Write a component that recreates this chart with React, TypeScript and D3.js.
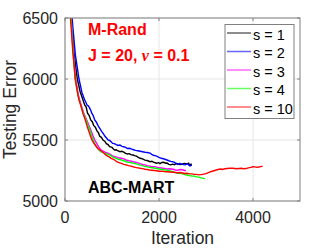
import React from "react";
import * as d3 from "d3";

// iteration, testing error
const s1 = [[50,7100],[128,6500],[190,6220],[262,6000],[320,5900],[383,5828],[419,5787],[450,5770],[480,5720],[515,5700],[547,5664],[580,5650],[610,5620],[645,5605],[680,5575],[710,5560],[740,5530],[775,5522],[809,5500],[845,5490],[880,5470],[915,5462],[950,5445],[1000,5440],[1030,5426],[1057,5418],[1090,5420],[1120,5412],[1170,5404],[1210,5408],[1250,5400],[1290,5390],[1330,5385],[1370,5388],[1400,5380],[1447,5377],[1480,5372],[1520,5368],[1560,5358],[1600,5350],[1650,5346],[1700,5335],[1750,5332],[1809,5322],[1850,5326],[1880,5318],[1950,5310],[1990,5314],[2020,5306],[2060,5316],[2100,5318],[2140,5310],[2170,5311],[2210,5300],[2250,5296],[2290,5302],[2330,5298],[2370,5308],[2400,5306],[2440,5298],[2480,5300],[2520,5306],[2550,5308],[2596,5303],[2630,5310],[2650,5296],[2680,5302],[2700,5300]];
const s2 = [[60,7100],[150,6500],[220,6200],[298,6000],[360,5890],[419,5828],[445,5810],[468,5787],[495,5780],[520,5765],[545,5745],[570,5720],[600,5700],[632,5664],[665,5648],[700,5620],[740,5595],[780,5570],[815,5552],[850,5530],[880,5518],[915,5500],[950,5496],[980,5485],[1015,5472],[1050,5470],[1090,5462],[1128,5455],[1170,5459],[1210,5448],[1250,5445],[1290,5440],[1330,5430],[1375,5432],[1420,5425],[1460,5420],[1500,5415],[1550,5412],[1600,5408],[1650,5404],[1700,5400],[1750,5398],[1809,5393],[1845,5382],[1880,5375],[1915,5372],[1950,5368],[2000,5358],[2050,5350],[2110,5344],[2170,5336],[2210,5330],[2250,5325],[2290,5322],[2330,5316],[2365,5306],[2400,5300],[2440,5308],[2480,5303],[2520,5298],[2560,5296],[2590,5304],[2620,5302],[2640,5292],[2660,5287],[2700,5295]];
const s3 = [[50,7150],[128,6500],[175,6230],[225,6000],[290,5860],[340,5790],[400,5720],[462,5664],[500,5630],[540,5590],[585,5545],[632,5500],[665,5478],[700,5455],[735,5432],[772,5418],[810,5410],[850,5400],[900,5394],[957,5385],[1000,5372],[1050,5365],[1100,5360],[1150,5352],[1200,5350],[1250,5345],[1300,5336],[1350,5330],[1400,5328],[1447,5322],[1500,5318],[1550,5312],[1600,5306],[1650,5300],[1700,5296],[1750,5290],[1800,5286],[1850,5282],[1900,5282],[1950,5278],[2000,5272],[2050,5270],[2110,5266],[2170,5262],[2230,5264],[2300,5260],[2350,5254],[2400,5252],[2450,5258],[2500,5256],[2540,5250],[2574,5250]];
const s4 = [[50,7150],[128,6500],[172,6230],[215,6000],[280,5860],[330,5790],[390,5720],[450,5664],[490,5620],[530,5580],[565,5540],[600,5500],[640,5466],[680,5440],[720,5420],[760,5405],[800,5398],[850,5390],[900,5384],[957,5377],[1000,5364],[1050,5355],[1100,5348],[1150,5340],[1200,5336],[1250,5330],[1300,5322],[1350,5318],[1400,5315],[1447,5311],[1500,5306],[1550,5300],[1600,5294],[1650,5290],[1700,5284],[1750,5280],[1800,5276],[1850,5272],[1900,5270],[1950,5266],[2000,5262],[2050,5260],[2110,5256],[2170,5254],[2230,5246],[2300,5240],[2350,5232],[2400,5228],[2450,5226],[2500,5222],[2550,5216],[2596,5213],[2650,5208],[2700,5205],[2750,5204],[2800,5198],[2850,5196],[2900,5190],[2940,5188],[2979,5182]];
const s10 = [[50,7150],[117,6500],[165,6230],[219,6000],[260,5900],[298,5828],[334,5787],[380,5720],[432,5664],[465,5620],[500,5580],[540,5535],[574,5500],[610,5476],[650,5455],[695,5432],[738,5418],[780,5408],[820,5395],[860,5380],[900,5370],[940,5362],[980,5350],[1020,5344],[1057,5336],[1100,5322],[1150,5315],[1200,5308],[1250,5300],[1300,5296],[1350,5290],[1400,5286],[1447,5281],[1500,5276],[1550,5272],[1600,5268],[1650,5265],[1700,5260],[1750,5258],[1800,5254],[1850,5252],[1900,5250],[1950,5248],[2000,5244],[2050,5245],[2110,5242],[2170,5240],[2230,5238],[2300,5236],[2350,5234],[2400,5232],[2450,5233],[2500,5230],[2550,5226],[2596,5227],[2650,5222],[2700,5222],[2750,5218],[2800,5218],[2840,5214],[2872,5216],[2910,5216],[2950,5220],[3000,5224],[3050,5232],[3100,5240],[3150,5246],[3200,5252],[3240,5256],[3277,5260],[3320,5262],[3350,5258],[3400,5264],[3450,5266],[3500,5268],[3568,5268],[3610,5266],[3650,5264],[3700,5266],[3750,5268],[3800,5264],[3851,5266],[3900,5272],[3950,5276],[4000,5281],[4040,5280],[4080,5276],[4120,5279],[4150,5280],[4180,5284],[4206,5284]];

const seriesNames = ["s = 1", "s = 2", "s = 3", "s = 4", "s = 10"];
const seriesData = [s1, s2, s3, s4, s10];
const colors = ["#000000", "#0000ff", "#ff00ff", "#00ff00", "#ff0000"];
const xTicks = [0, 2000, 4000];
const yTicks = [5000, 5500, 6000, 6500];

const W = 332, H = 249;
const margin = { top: 18, right: 32, bottom: 48, left: 65 };
const font = "'Liberation Sans', Arial, Helvetica, sans-serif";

export default function App() {
  const x = d3.scaleLinear().domain([0, 5000]).range([margin.left, W - margin.right]);
  const y = d3.scaleLinear().domain([5000, 6500]).range([H - margin.bottom, margin.top]);
  const line = d3.line<number[]>().x(d => x(d[0])).y(d => y(d[1]));
  const [x0, x1] = x.range();
  const [y0, y1] = y.range(); // y0 bottom, y1 top

  return (
    <svg width={W} height={H} style={{ position: "absolute", left: 0, top: 0, background: "#fff" }}>
      <defs>
        <clipPath id="plot">
          <rect x={x0} y={y1} width={x1 - x0} height={y0 - y1} />
        </clipPath>
      </defs>
      {/* grid */}
      {xTicks.map(t => (
        <line key={"gx" + t} x1={x(t)} x2={x(t)} y1={y1} y2={y0} stroke="#e6e6e6" />
      ))}
      {yTicks.map(t => (
        <line key={"gy" + t} x1={x0} x2={x1} y1={y(t)} y2={y(t)} stroke="#e6e6e6" />
      ))}
      {/* series */}
      <g clipPath="url(#plot)">
        {seriesData.map((d, i) => (
          <path key={i} d={line(d) || ""} fill="none" stroke={colors[i]} strokeWidth={1.4} />
        ))}
      </g>
      {/* box + ticks */}
      <rect x={x0} y={y1} width={x1 - x0} height={y0 - y1} fill="none" stroke="#808080" strokeWidth={1} />
      {xTicks.map(t => (
        <g key={"tx" + t}>
          <line x1={x(t)} x2={x(t)} y1={y0} y2={y0 - 3} stroke="#808080" />
          <line x1={x(t)} x2={x(t)} y1={y1} y2={y1 + 3} stroke="#808080" />
          <text x={x(t)} y={y0 + 22} textAnchor="middle" fontFamily={font} fontSize={16} fill="#262626">{t}</text>
        </g>
      ))}
      {yTicks.map(t => (
        <g key={"ty" + t}>
          <line x1={x0} x2={x0 + 3} y1={y(t)} y2={y(t)} stroke="#808080" />
          <line x1={x1} x2={x1 - 3} y1={y(t)} y2={y(t)} stroke="#808080" />
          <text x={x0 - 7} y={y(t)} dy="0.36em" textAnchor="end" fontFamily={font} fontSize={16} fill="#262626">{t}</text>
        </g>
      ))}
      <text x={(x0 + x1) / 2} y={244} textAnchor="middle" fontFamily={font} fontSize={17.5} fill="#262626">Iteration</text>
      <text transform={`translate(16,${(y0 + y1) / 2}) rotate(-90)`} textAnchor="middle" fontFamily={font} fontSize={17.5} fill="#262626">Testing Error</text>

      {/* annotations */}
      <text x={88} y={35} fontFamily={font} fontSize={16} fontWeight="bold" fill="#ff0000">M-Rand</text>
      <text x={88} y={61} fontFamily={font} fontSize={16} fontWeight="bold" fill="#ff0000">
        J = 20, <tspan fontFamily="'Liberation Serif', 'Times New Roman', serif" fontStyle="italic">ν</tspan> = 0.1
      </text>
      <text x={88} y={193} fontFamily={font} fontSize={16} fontWeight="bold" fill="#000">ABC-MART</text>

      {/* legend */}
      <rect x={225} y={24.5} width={69} height={94} fill="#fff" stroke="#808080" />
      {seriesNames.map((n, i) => (
        <g key={n}>
          <line x1={227} x2={251} y1={33 + i * 18.5} y2={33 + i * 18.5} stroke={colors[i]} strokeOpacity={0.6} strokeWidth={1.5} />
          <text x={253} y={39.5 + i * 18.5} fontFamily={font} fontSize={14.5} fill="#000">{n}</text>
        </g>
      ))}
    </svg>
  );
}
